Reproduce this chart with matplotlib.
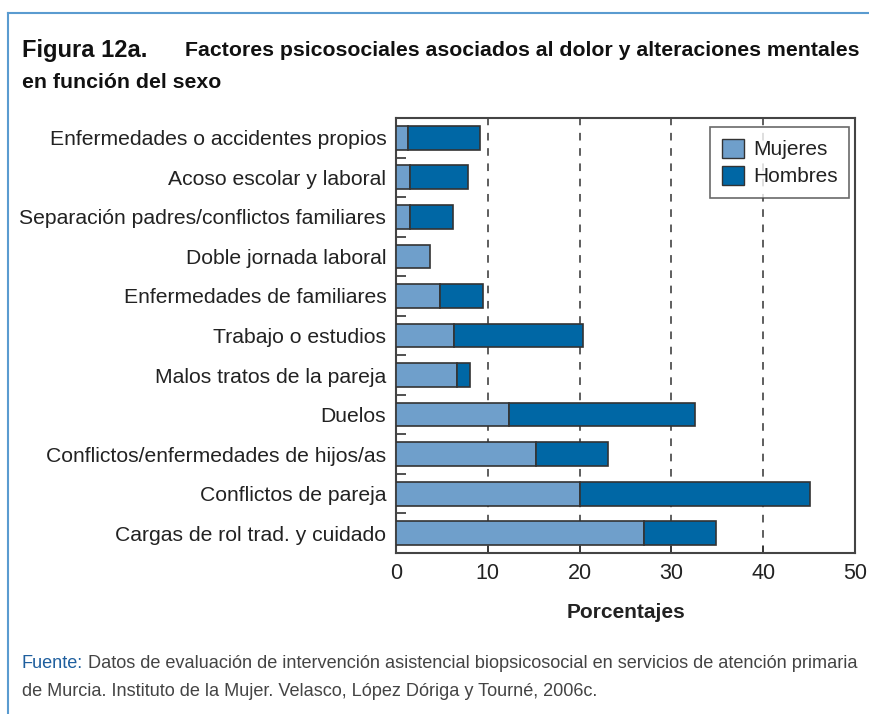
import matplotlib
matplotlib.use("Agg")
import matplotlib.pyplot as plt
from matplotlib.lines import Line2D
from matplotlib.patches import Patch
import numpy as np

plt.rcParams['font.family'] = ['Liberation Sans', 'DejaVu Sans']

categories = [
    "Enfermedades o accidentes propios",
    "Acoso escolar y laboral",
    "Separación padres/conflictos familiares",
    "Doble jornada laboral",
    "Enfermedades de familiares",
    "Trabajo o estudios",
    "Malos tratos de la pareja",
    "Duelos",
    "Conflictos/enfermedades de hijos/as",
    "Conflictos de pareja",
    "Cargas de rol trad. y cuidado",
]
mujeres = [1.3, 1.5, 1.5, 3.7, 4.8, 6.3, 6.6, 12.3, 15.3, 20.0, 27.0]
hombres = [7.8, 6.3, 4.7, 0.0, 4.7, 14.1, 1.5, 20.3, 7.8, 25.1, 7.9]
xticks = [0, 10, 20, 30, 40, 50]

c_muj = "#6f9fcb"
c_hom = "#0067a5"
edge = "#333333"
frame_blue = "#5a9bd0"
text_c = "#222222"

fig = plt.figure(figsize=(8.7, 7.14), dpi=100)
ax = fig.add_axes([396 / 870, 1 - 553 / 714, 459 / 870, 435 / 714])

y = np.arange(len(categories))
ax.barh(y, mujeres, height=0.6, color=c_muj, edgecolor=edge, linewidth=1.2, zorder=3)
hom_mask = np.array(hombres) > 0
ax.barh(y[hom_mask], np.array(hombres)[hom_mask], left=np.array(mujeres)[hom_mask],
        height=0.6, color=c_hom, edgecolor=edge, linewidth=1.2, zorder=3)

ax.set_xlim(0, 50)
ax.set_ylim(len(categories) - 0.5, -0.5)
ax.set_xticks(xticks)
ax.set_xticklabels([str(t) for t in xticks], fontsize=15.5, color=text_c)
ax.set_yticks(y)
ax.set_yticklabels(categories, fontsize=15.2, color=text_c)
ax.set_yticks(np.arange(len(categories) - 1) + 0.5, minor=True)
ax.tick_params(axis='y', which='major', length=0, pad=7)
ax.tick_params(axis='y', which='minor', direction='in', length=7, width=1.2, color=edge)
ax.tick_params(axis='x', direction='in', length=5, width=1.2, color=edge, pad=7)

for t in xticks[1:-1]:
    ax.axvline(t, color="#333333", linestyle=(0, (5, 5)), linewidth=1.1, zorder=1)

for s in ax.spines.values():
    s.set_color("#444444")
    s.set_linewidth(1.5)

ax.set_xlabel("Porcentajes", fontsize=15, fontweight='bold', color=text_c, labelpad=14)

handles = [Patch(facecolor=c_muj, edgecolor=edge, label="Mujeres"),
           Patch(facecolor=c_hom, edgecolor=edge, label="Hombres")]
leg = ax.legend(handles=handles, loc='upper right', bbox_to_anchor=(0.987, 0.979),
                fontsize=15, frameon=True, fancybox=False, handlelength=1.05,
                handleheight=1.05, handletextpad=0.45, borderpad=0.55, labelspacing=0.3,
                borderaxespad=0)
leg.get_frame().set_edgecolor("#444444")
leg.get_frame().set_linewidth(1.2)
for t in leg.get_texts():
    t.set_color(text_c)

# outer blue frame (top and left edges)
fig.add_artist(Line2D([8 / 870, 1], [1 - 13 / 714, 1 - 13 / 714], color=frame_blue, linewidth=1.5))
fig.add_artist(Line2D([8 / 870, 8 / 870], [0, 1 - 13 / 714], color=frame_blue, linewidth=1.5))

# title
fig.text(22 / 870, 1 - 50 / 714, "Figura 12a.", fontsize=17, fontweight='heavy',
         color="#111111", va='center', ha='left')
fig.text(185 / 870, 1 - 50 / 714, "Factores psicosociales asociados al dolor y alteraciones mentales",
         fontsize=15.3, fontweight='bold', color="#111111", va='center', ha='left')
fig.text(22 / 870, 1 - 82 / 714, "en función del sexo",
         fontsize=15.3, fontweight='bold', color="#111111", va='center', ha='left')

# source
renderer = fig.canvas.get_renderer()
src = fig.text(22 / 870, 1 - 663 / 714, "Fuente:", fontsize=13.1, color="#1f5f9e",
               va='center', ha='left')
bb = src.get_window_extent(renderer)
fig.text(bb.x1 / 870 + 5 / 870, 1 - 663 / 714,
         "Datos de evaluación de intervención asistencial biopsicosocial en servicios de atención primaria",
         fontsize=13.1, color="#444444", va='center', ha='left')
fig.text(22 / 870, 1 - 692 / 714,
         "de Murcia. Instituto de la Mujer. Velasco, López Dóriga y Tourné, 2006c.",
         fontsize=13.1, color="#444444", va='center', ha='left')

fig.savefig("out.png", dpi=100)
